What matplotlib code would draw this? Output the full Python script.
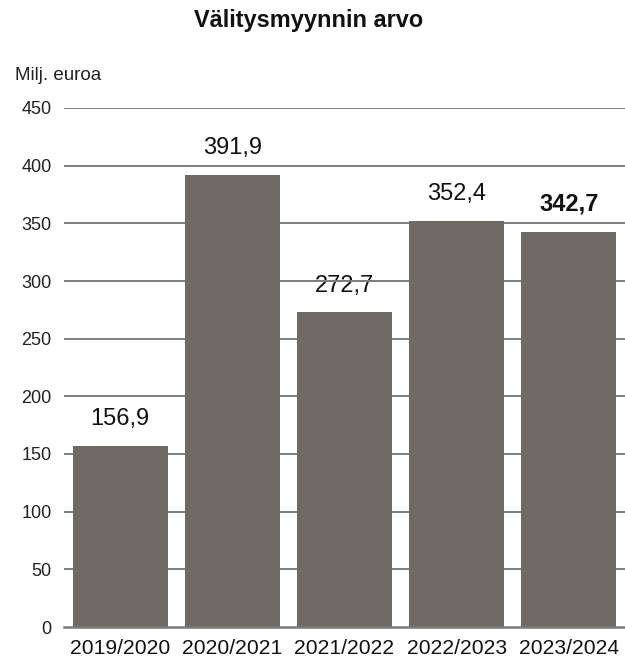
import matplotlib.pyplot as plt

plt.rcParams['font.family'] = ['Liberation Sans', 'DejaVu Sans']

seasons = ['2019/2020', '2020/2021', '2021/2022', '2022/2023', '2023/2024']
values = [156.9, 391.9, 272.7, 352.4, 342.7]
labels = ['156,9', '391,9', '272,7', '352,4', '342,7']
yticks = list(range(0, 451, 50))

W, H = 625, 663
fig = plt.figure(figsize=(W / 100, H / 100), dpi=100)
ax = fig.add_axes([64 / W, 1 - 627 / H, 1 - 64 / W, (627 - 108) / H])

# bars above the gridlines, value labels under them
ax.bar(range(len(values)), values, width=0.845, color='#6f6a63', zorder=2)
for t in yticks[1:]:
    ax.axhline(t, color='#7d7d7d', linewidth=1.4, zorder=1)

ax.set_xlim(-0.5, len(values) - 0.5)
ax.set_ylim(0, 450)
ax.set_yticks(yticks)

for s in ['top', 'right', 'left']:
    ax.spines[s].set_visible(False)
ax.spines['bottom'].set_color('#7a7a7a')
ax.spines['bottom'].set_linewidth(1.8)
ax.spines['bottom'].set_zorder(3)

ax.tick_params(axis='y', length=0, pad=9, labelsize=13, labelcolor='#222222')
ax.tick_params(axis='x', length=0, pad=9, labelsize=15.2, labelcolor='#111111')
ax.set_xticks(range(len(seasons)))
ax.set_xticklabels(seasons)

for i, (v, lab) in enumerate(zip(values, labels)):
    last = i == len(values) - 1
    ax.annotate(lab, (i, v), xytext=(0, 15), textcoords='offset points',
                ha='center', va='baseline', fontsize=17, color='#111111',
                fontweight='bold' if last else 'normal', zorder=0.5)

fig.text(15 / W, 1 - 80 / H, 'Milj. euroa', fontsize=13.5, va='baseline',
         ha='left', color='#222222')
fig.text(309 / W, 1 - 27 / H, 'Välitysmyynnin arvo', fontsize=16.9,
         fontweight='bold', ha='center', va='baseline', color='#111111')

fig.savefig('out.png', dpi=100)
